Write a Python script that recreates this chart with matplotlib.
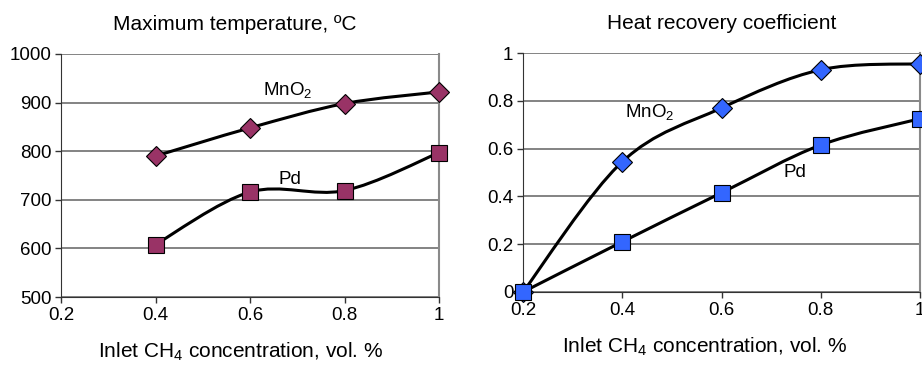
"""
    Catalyst comparison plot
    - Maximum temperature vs inlet CH4
    - Heat recovery coefficient vs inlet CH4
"""
import matplotlib
matplotlib.use('Agg')
import matplotlib.pyplot as plt
import numpy as np
from matplotlib.path import Path
from matplotlib.patches import PathPatch

plt.rcParams['font.family'] = ['Liberation Sans', 'DejaVu Sans']
plt.rcParams['mathtext.fontset'] = 'custom'
plt.rcParams['mathtext.rm'] = 'Liberation Sans'
plt.rcParams['mathtext.default'] = 'regular'

# data
conc_t = [0.4, 0.6, 0.8, 1.0]
temp_mno2 = [790, 848, 898, 922]
temp_pd = [608, 716, 719, 797]

conc_h = [0.2, 0.4, 0.6, 0.8, 1.0]
heat_mno2 = [0.0, 0.545, 0.77, 0.93, 0.955]
heat_pd = [0.0, 0.21, 0.415, 0.615, 0.725]

x_ticks = [0.2, 0.4, 0.6, 0.8, 1.0]
x_tick_labels = ['0.2', '0.4', '0.6', '0.8', '1']
t_ticks = [500, 600, 700, 800, 900, 1000]
h_ticks = [0, 0.2, 0.4, 0.6, 0.8, 1.0]
h_tick_labels = ['0', '0.2', '0.4', '0.6', '0.8', '1']

MAROON = '#993366'
BLUE = '#3366FF'
GRID = '#6e6e6e'


def smooth_path(x, y):
    # excel-like smoothed line: cubic bezier through the points
    p = np.column_stack([x, y]).astype(float)
    n = len(p)
    verts = [p[0]]
    codes = [Path.MOVETO]
    for i in range(n - 1):
        p0 = p[i - 1] if i > 0 else p[i]
        p3 = p[i + 2] if i + 2 < n else p[i + 1]
        c1 = p[i] + (p[i + 1] - p0) / 6
        c2 = p[i + 1] - (p3 - p[i]) / 6
        verts += [c1, c2, p[i + 1]]
        codes += [Path.CURVE4] * 3
    return Path(verts, codes)


def draw_series(ax, x, y, marker, ms, color):
    patch = PathPatch(smooth_path(x, y), fc='none', ec='black', lw=2.2,
                      zorder=3, clip_on=False)
    ax.add_patch(patch)
    ax.plot(x, y, ls='none', marker=marker, ms=ms, mfc=color, mec='black',
            mew=0.8, zorder=4, clip_on=False)


def style_axes(ax):
    ax.grid(axis='y', color=GRID, lw=1.2, zorder=1)
    ax.set_axisbelow(True)
    ax.spines['top'].set_visible(False)
    ax.spines['right'].set_color('#8a8a8a')
    ax.spines['right'].set_linewidth(1.5)
    ax.spines['left'].set_color('#333333')
    ax.spines['bottom'].set_color('#333333')
    ax.tick_params(which='major', direction='out', length=4, width=1,
                   labelsize=13.5, color='#333333', pad=3)


fig = plt.figure(figsize=(9.22, 3.65), dpi=100)

# left: maximum temperature
ax1 = fig.add_axes([61 / 922, 1 - 297 / 365, 378 / 922, 243 / 365])
draw_series(ax1, conc_t, temp_mno2, 'D', 10.5, MAROON)
draw_series(ax1, conc_t, temp_pd, 's', 12, MAROON)
ax1.set_xlim(0.2, 1.0)
ax1.set_ylim(500, 1000)
ax1.set_xticks(x_ticks)
ax1.set_xticklabels(x_tick_labels)
ax1.set_yticks(t_ticks)
style_axes(ax1)
ax1.set_title('Maximum temperature, ºC', fontsize=15, pad=17, x=0.46)
ax1.set_xlabel('Inlet CH$_4$ concentration, vol. %', fontsize=15, labelpad=12)
ax1.xaxis.label.set_x(0.476)
ax1.text(0.68, 926, 'MnO$_2$', fontsize=13.5, ha='center', va='center')
ax1.text(0.685, 741, 'Pd', fontsize=13.5, ha='center', va='center')

# right: heat recovery coefficient
ax2 = fig.add_axes([523 / 922, 1 - 292 / 365, 397 / 922, 239 / 365])
draw_series(ax2, conc_h, heat_mno2, 'D', 10.5, BLUE)
draw_series(ax2, conc_h, heat_pd, 's', 12, BLUE)
ax2.set_xlim(0.2, 1.0)
ax2.set_ylim(0, 1.0)
ax2.set_xticks(x_ticks)
ax2.set_xticklabels(x_tick_labels)
ax2.set_yticks(h_ticks)
ax2.set_yticklabels(h_tick_labels)
style_axes(ax2)
ax2.set_title('Heat recovery coefficient', fontsize=15, pad=17)
ax2.set_xlabel('Inlet CH$_4$ concentration, vol. %', fontsize=15, labelpad=12)
ax2.xaxis.label.set_x(0.458)
ax2.text(0.456, 0.753, 'MnO$_2$', fontsize=13.5, ha='center', va='center')
ax2.text(0.748, 0.498, 'Pd', fontsize=13.5, ha='center', va='center')

fig.savefig('out.png', dpi=100)
